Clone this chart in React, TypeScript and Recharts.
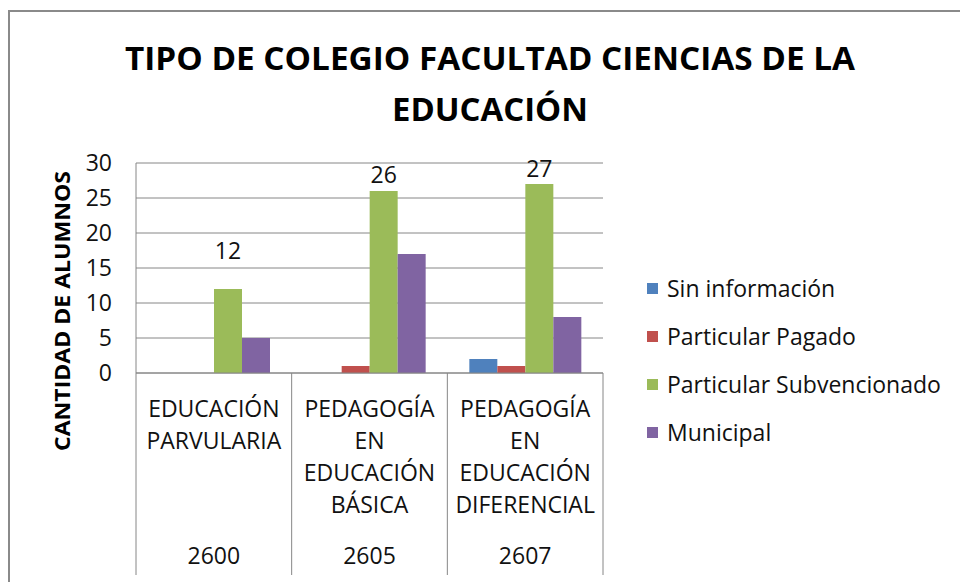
import React from 'react';
import { BarChart, Bar, XAxis, YAxis, CartesianGrid, Legend, LabelList } from 'recharts';

const titleLines = ['TIPO DE COLEGIO FACULTAD CIENCIAS DE LA', 'EDUCACIÓN'];
const yAxisTitle = 'CANTIDAD DE ALUMNOS';
const categories = ['EDUCACIÓN PARVULARIA', 'PEDAGOGÍA EN EDUCACIÓN BÁSICA', 'PEDAGOGÍA EN EDUCACIÓN DIFERENCIAL'];
const categoryLines = [
  ['EDUCACIÓN', 'PARVULARIA'],
  ['PEDAGOGÍA', 'EN', 'EDUCACIÓN', 'BÁSICA'],
  ['PEDAGOGÍA', 'EN', 'EDUCACIÓN', 'DIFERENCIAL'],
];
const codes = ['2600', '2605', '2607'];
const seriesNames = ['Sin información', 'Particular Pagado', 'Particular Subvencionado', 'Municipal'];
const sinInformacion = [0, 0, 2];
const particularPagado = [0, 1, 1];
const particularSubvencionado = [12, 26, 27];
const municipal = [5, 17, 8];
const yTicks = [0, 5, 10, 15, 20, 25, 30];

const colors = ['#4F81BD', '#C0504D', '#9BBB59', '#8064A2'];
const FONT = "'Open Sans', 'Noto Sans', sans-serif";
const GRID = '#868686';
const labelLift = [30, 8, 7];

const data = categories.map((name, i) => ({
  name,
  lines: categoryLines[i],
  code: codes[i],
  s0: sinInformacion[i],
  s1: particularPagado[i],
  s2: particularSubvencionado[i],
  s3: municipal[i],
}));

function XTick(props: any) {
  const { x, y, payload, index, visibleTicksCount } = props;
  const half = payload && payload.offset ? payload.offset : 78;
  const d = data[index];
  const lines: string[] = d ? d.lines : [];
  return (
    <g>
      <line x1={x - half} x2={x - half} y1={y} y2={y + 202} stroke={GRID} strokeWidth={1} />
      {index === visibleTicksCount - 1 && (
        <line x1={x + half} x2={x + half} y1={y} y2={y + 202} stroke={GRID} strokeWidth={1} />
      )}
      {lines.map((ln, k) => (
        <text key={k} x={x} y={y + 44 + k * 32} textAnchor="middle" fontFamily={FONT} fontSize={23} fill="#111">
          {ln}
        </text>
      ))}
      <text x={x} y={y + 191} textAnchor="middle" fontFamily={FONT} fontSize={23} fill="#111">
        {d ? d.code : ''}
      </text>
    </g>
  );
}

function GreenLabel(props: any) {
  const { x, y, width, value, index } = props;
  return (
    <text x={x + width / 2} y={y - labelLift[index]} textAnchor="middle" fontFamily={FONT} fontSize={23} fill="#111">
      {value}
    </text>
  );
}

function LegendContent() {
  return (
    <div style={{ fontFamily: FONT }}>
      {seriesNames.map((name, i) => (
        <div key={i} style={{ height: 48, display: 'flex', alignItems: 'center' }}>
          <span style={{ width: 11, height: 11, background: colors[i], display: 'inline-block', marginRight: 9 }} />
          <span style={{ fontSize: 23, color: '#111', whiteSpace: 'nowrap' }}>{name}</span>
        </div>
      ))}
    </div>
  );
}

export default function App() {
  return (
    <div style={{ position: 'absolute', left: 0, top: 0, width: 960, height: 582, background: '#fff', overflow: 'hidden' }}>
      <div
        style={{
          position: 'absolute',
          left: 8,
          top: 10,
          width: 1000,
          height: 700,
          borderTop: '2px solid #8a8a8a',
          borderLeft: '2px solid #8a8a8a',
        }}
      />
      <div style={{ position: 'absolute', left: 0, top: 0 }}>
        <BarChart
          width={960}
          height={582}
          data={data}
          margin={{ top: 163, right: 357, bottom: 0, left: 76 }}
          barGap={0}
          barSize={28}
        >
          <text x={490} y={70} textAnchor="middle" fontFamily={FONT} fontWeight="bold" fontSize={32} fill="#000" textLength={730} lengthAdjust="spacingAndGlyphs">
            {titleLines[0]}
          </text>
          <text x={490} y={121} textAnchor="middle" fontFamily={FONT} fontWeight="bold" fontSize={32} fill="#000" textLength={196} lengthAdjust="spacingAndGlyphs">
            {titleLines[1]}
          </text>
          <text
            x={61}
            y={311}
            transform="rotate(-90, 61, 311)"
            textAnchor="middle"
            dominantBaseline="central"
            fontFamily={FONT}
            fontWeight="bold"
            fontSize={22}
            fill="#000"
            textLength={280}
            lengthAdjust="spacingAndGlyphs"
          >
            {yAxisTitle}
          </text>
          <CartesianGrid vertical={false} stroke={GRID} strokeWidth={1} />
          <XAxis
            dataKey="name"
            height={209}
            interval={0}
            tickLine={false}
            tickSize={0}
            tickMargin={0}
            axisLine={{ stroke: GRID }}
            tick={<XTick />}
          />
          <YAxis
            width={60}
            domain={[0, 30]}
            ticks={yTicks}
            interval={0}
            tickLine={false}
            tickSize={0}
            tickMargin={24}
            axisLine={{ stroke: GRID }}
            tick={{ fontFamily: FONT, fontSize: 23, fill: '#111' }}
          />
          <Legend
            layout="vertical"
            align="center"
            verticalAlign="middle"
            wrapperStyle={{ left: 647, top: 264, width: 310 }}
            content={<LegendContent />}
          />
          <Bar dataKey="s0" name={seriesNames[0]} fill={colors[0]} isAnimationActive={false} />
          <Bar dataKey="s1" name={seriesNames[1]} fill={colors[1]} isAnimationActive={false} />
          <Bar dataKey="s2" name={seriesNames[2]} fill={colors[2]} isAnimationActive={false}>
            <LabelList dataKey="s2" content={<GreenLabel />} />
          </Bar>
          <Bar dataKey="s3" name={seriesNames[3]} fill={colors[3]} isAnimationActive={false} />
        </BarChart>
      </div>
    </div>
  );
}
